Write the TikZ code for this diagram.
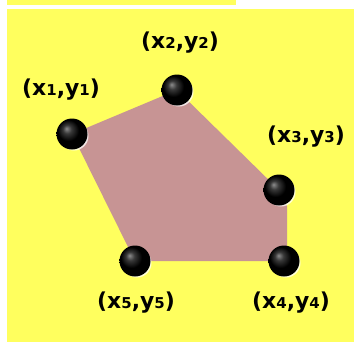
\documentclass[tikz,border=0pt]{standalone}
\usepackage{fontspec}
\setmainfont{DejaVu Sans}
\usepackage{tikz}
\usepackage{xcolor}
\definecolor{canary}{HTML}{FFFF5E}
\definecolor{rosy}{HTML}{C79494}
\pgfdeclareradialshading{dotball}{\pgfpoint{-9bp}{9bp}}{color(0bp)=(black!45); color(7bp)=(black!78); color(17bp)=(black); color(50bp)=(black)}
\newcommand{\ix}[1]{{\fontsize{15}{15}\selectfont #1}}

\begin{document}
\begin{tikzpicture}[x=1bp,y=-1bp,
    every node/.style={font=\bfseries\fontsize{22}{22}\selectfont},
    dot/.style={circle,minimum size=31bp,inner sep=0pt,shading=dotball},
    glow/.style={circle,minimum size=29bp,inner sep=0pt,fill=white,opacity=0.75}]
    \useasboundingbox (0,0) rectangle (354,342);
    \fill[canary] (7,0) rectangle (236,5);
    \fill[canary] (7,9) rectangle (354,342);
    % corners of the hull
    \coordinate (c1) at (72,134);
    \coordinate (c2) at (177,90);
    \coordinate (c3) at (279,190);
    \coordinate (c3b) at (287,206);
    \coordinate (c4) at (287,261);
    \coordinate (c5) at (135,261);
    \fill[rosy] (c1)--(c2)--(c3)--(c3b)--(c4)--(c5)--cycle;
    % points
    \node[glow] at (74,136) {};
    \node[glow] at (179,92) {};
    \node[glow] at (281,192) {};
    \node[glow] at (286,263) {};
    \node[glow] at (137,263) {};
    \node[dot] (p1) at (72,134) {};
    \node[dot] (p2) at (177,90) {};
    \node[dot] (p3) at (279,190) {};
    \node[dot] (p4) at (284,261) {};
    \node[dot] (p5) at (135,261) {};
    % labels
    \node (l1) at (61,90) {(x\ix{1},y\ix{1})};
    \node (l2) at (180,43) {(x\ix{2},y\ix{2})};
    \node (l3) at (306,137) {(x\ix{3},y\ix{3})};
    \node (l4) at (291,303) {(x\ix{4},y\ix{4})};
    \node (l5) at (136,303) {(x\ix{5},y\ix{5})};
\end{tikzpicture}
\end{document}
